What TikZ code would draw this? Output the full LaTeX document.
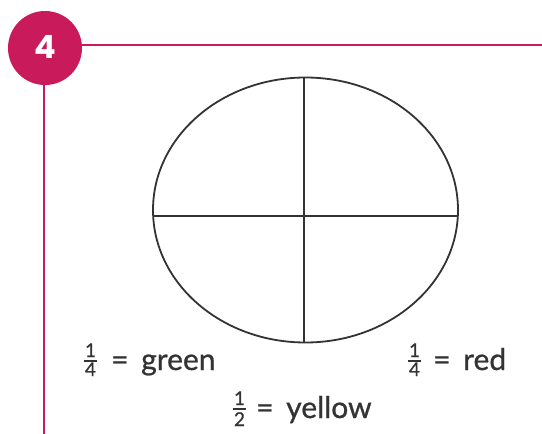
\documentclass[tikz,border=0pt]{standalone}
\usepackage{fontspec}
\setmainfont{Lato}
\newfontfamily\txtfont{Lato}[FakeBold=0.8]
\newfontfamily\badgefont{Poppins}
\definecolor{mag}{HTML}{C91A5C}
\definecolor{ink}{HTML}{333333}
\tikzset{
  magline/.style={draw=mag, line width=2pt},
  inkline/.style={draw=ink, line width=1.8pt},
  word/.style={text=ink, font=\txtfont\fontsize{30}{30}\selectfont, inner sep=0pt, anchor=base west},
  digit/.style={text=ink, font=\txtfont\fontsize{19}{19}\selectfont, inner sep=0pt, anchor=base},
  fbar/.style={draw=ink, line width=1.3pt},
}
\begin{document}
\begin{tikzpicture}[x=1pt,y=-1pt]
\useasboundingbox (0,0) rectangle (542,434);
% badge and frame
\node[circle, fill=mag, minimum size=74pt, inner sep=0pt] (badge) at (45,48) {};
\node[text=white, font=\badgefont\bfseries\fontsize{32}{32}\selectfont, yshift=1pt] (num) at (badge) {4};
\coordinate (hr) at (542,45);
\coordinate (vb) at (44,434);
\draw[magline] (badge.east |- hr) -- (hr);
\draw[magline] (vb |- badge.south) -- (vb);
% ellipse
\coordinate (c) at (305.5,210);
\draw[inkline] (c) ellipse [x radius=152.5, y radius=132.5];
\coordinate (t) at (304,77.5);
\coordinate (b) at (304,342.2);
\coordinate (l) at (153.2,216);
\coordinate (r) at (457.8,216);
\draw[inkline] (t) -- (b);
\draw[inkline] (l) -- (r);
% 1/4 = green
\node[digit] (n1) at (90.5,357) {1};
\node[digit] (d1) at (90.5,376) {4};
\coordinate (b1l) at (84,361);
\coordinate (b1r) at (97,361);
\draw[fbar] (b1l) -- (b1r);
\node[word] (eq1) at (111,370) {=};
\node[word] (g) at (141,370) {green};
% 1/4 = red
\node[digit] (n2) at (414.5,357) {1};
\node[digit] (d2) at (414.5,376) {4};
\coordinate (b2l) at (408,361);
\coordinate (b2r) at (421,361);
\draw[fbar] (b2l) -- (b2r);
\node[word] (eq2) at (433,370) {=};
\node[word] (rd) at (463,370) {red};
% 1/2 = yellow
\node[digit] (n3) at (239.5,405) {1};
\node[digit] (d3) at (239.5,426) {2};
\coordinate (b3l) at (233,409);
\coordinate (b3r) at (246,409);
\draw[fbar] (b3l) -- (b3r);
\node[word] (eq3) at (256,418) {=};
\node[word] (y) at (286,418) {yellow};
\end{tikzpicture}
\end{document}
